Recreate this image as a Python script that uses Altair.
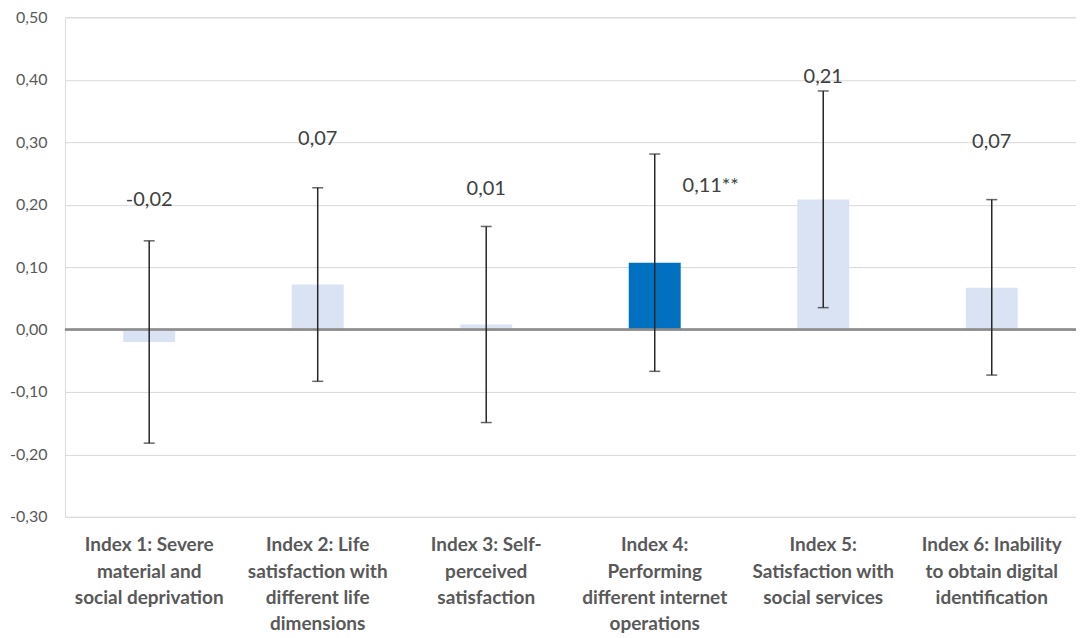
import altair as alt
import pandas as pd

categories = [
    "Index 1: Severe|material and|social deprivation",
    "Index 2: Life|satisfaction with|different life|dimensions",
    "Index 3: Self-|perceived|satisfaction",
    "Index 4:|Performing|different internet|operations",
    "Index 5:|Satisfaction with|social services",
    "Index 6: Inability|to obtain digital|identification",
]
values = [-0.02, 0.072, 0.008, 0.107, 0.208, 0.067]
ci_low = [-0.182, -0.083, -0.149, -0.067, 0.035, -0.073]
ci_high = [0.142, 0.227, 0.165, 0.281, 0.382, 0.208]
labels = ["-0,02", "0,07", "0,01", "0,11**", "0,21", "0,07"]
label_at = [0.208, 0.305, 0.225, 0.230, 0.404, 0.300]
significant = [False, False, False, True, False, False]
y_ticks = [-0.3, -0.2, -0.1, 0.0, 0.1, 0.2, 0.3, 0.4, 0.5]

df = pd.DataFrame({
    "cat": categories, "value": values, "lo": ci_low, "hi": ci_high,
    "label": labels, "label_at": label_at, "sig": significant,
})

FONT = "Lato"
x_enc = alt.X("cat:N", sort=categories, title=None,
              scale=alt.Scale(paddingInner=0, paddingOuter=0),
              axis=alt.Axis(labelExpr="split(datum.label, '|')", labelAngle=0,
                            labelFont=FONT, labelFontSize=19, labelFontWeight="bold",
                            labelColor="#595959", labelLineHeight=26.3, labelPadding=19,
                            labelBaseline="top", labelLimit=0, ticks=False, domain=False,
                            grid=False))
y_scale = alt.Scale(domain=[-0.3, 0.5], nice=False, zero=False)
y_enc = alt.Y("value:Q", scale=y_scale, title=None,
              axis=alt.Axis(values=y_ticks,
                            labelExpr="(datum.value < -0.0001 ? '-' : '') + replace(format(abs(datum.value), '.2f'), '.', ',')",
                            labelFont=FONT, labelFontSize=16, labelColor="#595959",
                            labelPadding=18, ticks=False, domain=False,
                            gridColor="#d9d9d9", gridWidth=1,
                            minExtent=57, maxExtent=57))

base = alt.Chart(df)

bars = base.mark_bar(size=52).encode(
    x=x_enc, y=y_enc,
    color=alt.Color("sig:N", scale=alt.Scale(domain=[False, True], range=["#dae3f3", "#0070c0"]), legend=None),
)

zero = base.mark_rule(color="#8c8c8c", strokeWidth=1.5).encode(y=alt.datum(0))

err = base.mark_rule(color="#262626", strokeWidth=1.5).encode(
    x=alt.X("cat:N", sort=categories), y=alt.Y("lo:Q", scale=y_scale), y2="hi:Q")
cap_lo = base.mark_tick(color="#262626", thickness=1.5, size=11, orient="horizontal").encode(
    x=alt.X("cat:N", sort=categories), y=alt.Y("lo:Q", scale=y_scale))
cap_hi = base.mark_tick(color="#262626", thickness=1.5, size=11, orient="horizontal").encode(
    x=alt.X("cat:N", sort=categories), y=alt.Y("hi:Q", scale=y_scale))

txt = base.transform_filter("!datum.sig").mark_text(
    font=FONT, fontSize=20, color="#404040", align="center", baseline="middle").encode(
    x=alt.X("cat:N", sort=categories), y=alt.Y("label_at:Q", scale=y_scale), text="label:N")
txt_sig = base.transform_filter("datum.sig").mark_text(
    font=FONT, fontSize=20, color="#404040", align="center", baseline="middle", dx=56).encode(
    x=alt.X("cat:N", sort=categories), y=alt.Y("label_at:Q", scale=y_scale), text="label:N")

chart = alt.layer(bars, zero, err, cap_lo, cap_hi, txt, txt_sig).properties(
    width=1012, height=500,
    autosize=alt.AutoSizeParams(type="none"),
    padding={"left": 57, "top": 9, "right": 0, "bottom": 120},
).configure_view(stroke=None).configure(background="white")

chart.save("out.html", embed_options={"renderer": "svg", "actions": False})
